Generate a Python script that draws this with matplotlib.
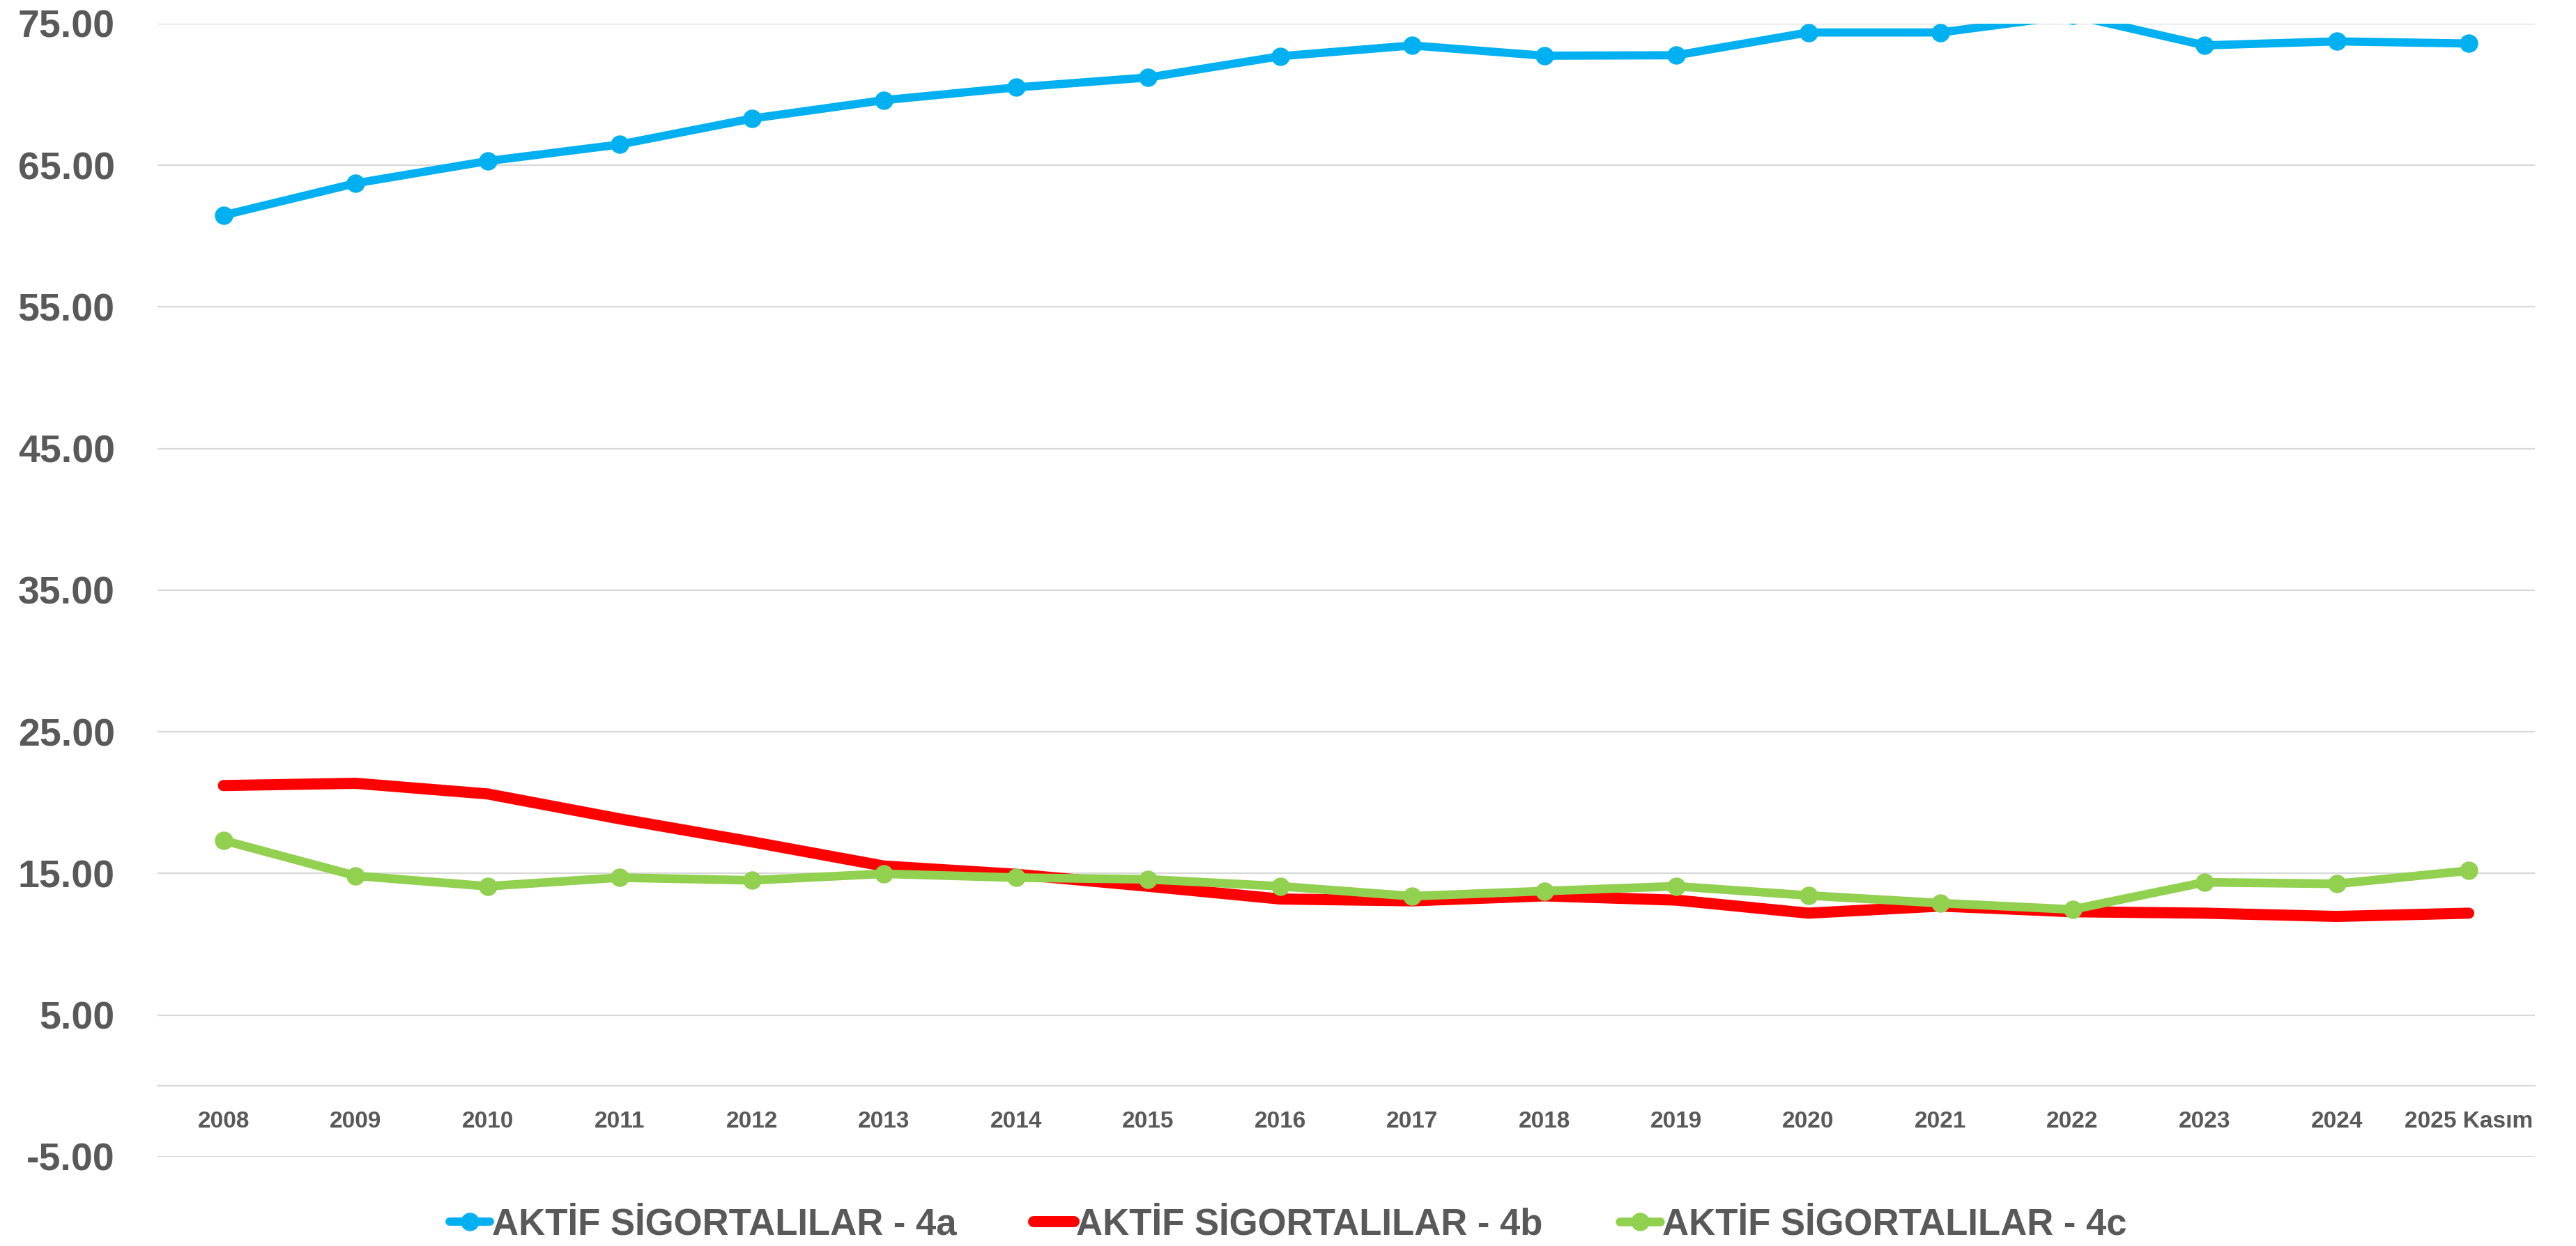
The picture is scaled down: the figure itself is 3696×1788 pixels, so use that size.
import matplotlib
matplotlib.use("Agg")
import matplotlib.pyplot as plt

categories = ["2008", "2009", "2010", "2011", "2012", "2013", "2014", "2015", "2016",
              "2017", "2018", "2019", "2020", "2021", "2022", "2023", "2024", "2025 Kasım"]
series_4a = [61.47, 63.73, 65.30, 66.47, 68.30, 69.60, 70.50, 71.20, 72.70,
             73.46, 72.74, 72.77, 74.38, 74.38, 75.60, 73.47, 73.75, 73.60]
series_4b = [21.21, 21.37, 20.62, 18.86, 17.24, 15.53, 14.95, 14.10, 13.20,
             13.07, 13.42, 13.12, 12.20, 12.70, 12.30, 12.20, 11.97, 12.20]
series_4c = [17.34, 14.84, 14.10, 14.71, 14.52, 14.98, 14.71, 14.59, 14.10,
             13.40, 13.76, 14.10, 13.45, 12.91, 12.46, 14.38, 14.27, 15.20]
labels = ["AKTİF SİGORTALILAR - 4a", "AKTİF SİGORTALILAR - 4b", "AKTİF SİGORTALILAR - 4c"]
y_ticks = [-5, 5, 15, 25, 35, 45, 55, 65, 75]

TXT = "#595959"
GRID = "#D9D9D9"
plt.rcParams['font.family'] = ['Liberation Sans', 'DejaVu Sans']
plt.rcParams['font.weight'] = 'bold'

fig = plt.figure(figsize=(36.96, 17.88), dpi=100)
ax = fig.add_axes([0.0611, 0.0716, 0.984 - 0.0611, 0.981 - 0.0716])

x = list(range(len(categories)))
ax.plot(x, series_4a, color="#00B0F0", lw=8.5, marker="o", ms=18,
        solid_capstyle="round", solid_joinstyle="miter", label=labels[0], zorder=3)
ax.plot(x, series_4b, color="#FF0000", lw=11.5, solid_capstyle="round",
        solid_joinstyle="miter", label=labels[1], zorder=3)
ax.plot(x, series_4c, color="#92D050", lw=9, marker="o", ms=18,
        solid_capstyle="round", solid_joinstyle="miter", label=labels[2], zorder=4)

ax.set_xlim(-0.5, len(categories) - 0.5)
ax.set_ylim(-5, 75)
ax.set_yticks(y_ticks)
ax.set_yticklabels([f"{v:.2f}" for v in y_ticks])
ax.set_xticks(x)
ax.set_xticklabels(categories)

ax.yaxis.grid(True, color=GRID, lw=1.6, zorder=0)
ax.set_axisbelow(True)
for s in ["top", "left", "right"]:
    ax.spines[s].set_visible(False)
ax.spines["bottom"].set_position(("data", 0))
ax.spines["bottom"].set_color(GRID)
ax.spines["bottom"].set_linewidth(1.6)
ax.spines["bottom"].set_zorder(0)

ax.tick_params(axis="y", length=0, pad=44, labelsize=40, labelcolor=TXT)
ax.tick_params(axis="x", length=0, pad=26, labelsize=24, labelcolor=TXT)
for t in ax.get_yticklabels() + ax.get_xticklabels():
    t.set_fontweight("bold")

leg = fig.legend(loc="center", bbox_to_anchor=(0.5, 0.017), ncol=3, frameon=False,
                 fontsize=38, handlelength=1.1, handletextpad=0.05,
                 columnspacing=2.1, borderaxespad=0)
for t in leg.get_texts():
    t.set_color(TXT)
    t.set_fontweight("bold")

fig.savefig("out.png", dpi=100, facecolor="white")
